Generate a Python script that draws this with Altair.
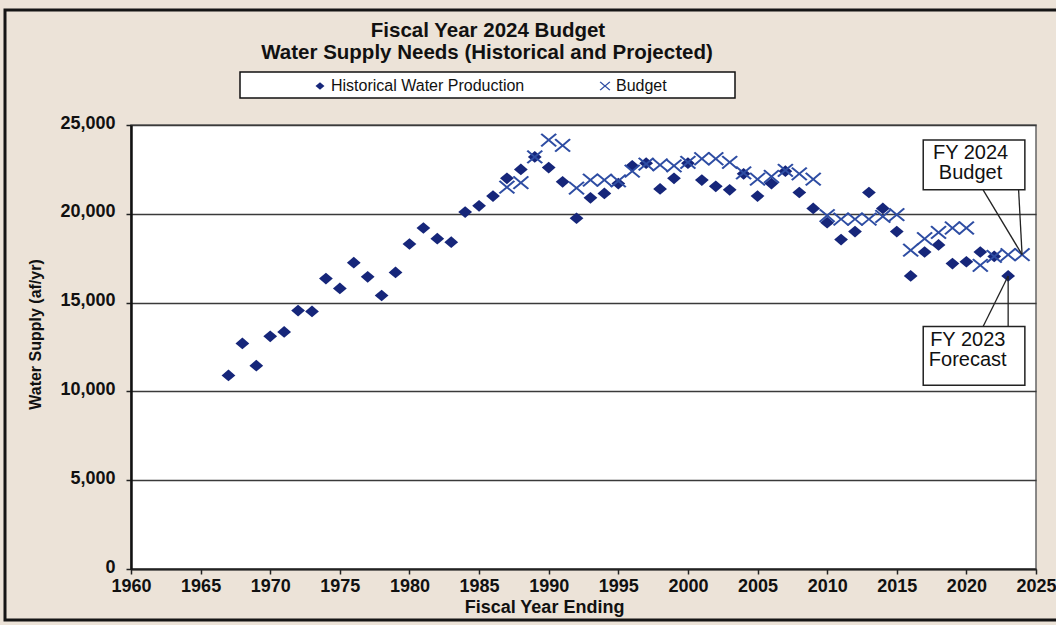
import altair as alt
import pandas as pd

# ---------------- data ----------------
hist_years = list(range(1967, 2024))
hist_values = [
    10900, 12700, 11450, 13100, 13350, 14550, 14500, 16350, 15800, 17250,   # 1967-1976
    16450, 15400, 16700, 18300, 19200, 18600, 18400, 20100, 20450, 21000,   # 1977-1986
    22000, 22500, 23200, 22600, 21800, 19750, 20900, 21150, 21700, 22700,   # 1987-1996
    22850, 21400, 22000, 22850, 21900, 21550, 21350, 22250, 21000, 21700,   # 1997-2006
    22400, 21200, 20300, 19500, 18550, 19000, 21200, 20300, 19000, 16500,   # 2007-2016
    17850, 18250, 17200, 17300, 17850, 17600, 16500,                        # 2017-2023
]
budget_years = list(range(1987, 2025))
budget_values = [
    21500, 21750, 23200, 24150, 23850, 21450, 21900, 21900, 21850, 22400,   # 1987-1996
    22800, 22750, 22700, 22900, 23100, 23100, 22900, 22300, 21950, 22100,   # 1997-2006
    22450, 22250, 21950, 19900, 19700, 19700, 19700, 19850, 19950, 17950,   # 2007-2016
    18600, 18950, 19200, 19200, 17100, 17600, 17700, 17700,                 # 2017-2024
]
series_names = ["Historical Water Production", "Budget"]
x_ticks = list(range(1960, 2026, 5))
y_ticks = list(range(0, 25001, 5000))
title_lines = ["Fiscal Year 2024 Budget", "Water Supply Needs (Historical and Projected)"]

# annotation callouts (data units)
ann_box_x = [2016.9, 2024.2]
ann_budget_box_y = [21350, 24150]
ann_forecast_box_y = [10350, 13650]
ann_budget_lines_x = [2021.2, 2023.75]
ann_forecast_lines_x = [2021.2, 2023.0]
ann_texts = ["FY 2024", "Budget", "FY 2023", "Forecast"]
ann_text_x = [2020.3, 2020.3, 2020.1, 2020.1]
ann_text_y = [23450, 22320, 12910, 11780]

# ---------------- tables ----------------
points = pd.DataFrame({
    "x": hist_years + budget_years,
    "y": hist_values + budget_values,
    "series": [series_names[0]] * len(hist_years) + [series_names[1]] * len(budget_years),
})

boxes = pd.DataFrame({
    "x": [ann_box_x[0]] * 2, "x2": [ann_box_x[1]] * 2,
    "y": [ann_budget_box_y[0], ann_forecast_box_y[0]],
    "y2": [ann_budget_box_y[1], ann_forecast_box_y[1]],
})

b_tip = (budget_years[-1], budget_values[-1])
f_tip = (hist_years[-1], hist_values[-1])
lines = pd.DataFrame({
    "x": [b_tip[0], b_tip[0], f_tip[0], f_tip[0]],
    "y": [b_tip[1], b_tip[1], f_tip[1], f_tip[1]],
    "x2": ann_budget_lines_x + ann_forecast_lines_x,
    "y2": [ann_budget_box_y[0]] * 2 + [ann_forecast_box_y[1]] * 2,
})

texts = pd.DataFrame({"x": ann_text_x, "y": ann_text_y, "t": ann_texts})

FONT = "Liberation Sans"
XT = "Fiscal Year Ending"
YT = "Water Supply (af/yr)"

xscale = alt.Scale(domain=[1960, 2025], nice=False, zero=False)
yscale = alt.Scale(domain=[0, 25000], nice=False)

x_axis = alt.Axis(
    values=x_ticks, format="d", title=XT, grid=False, labelFlush=False,
    labelFont=FONT, labelFontSize=18, labelFontWeight="bold", labelColor="#111",
    labelPadding=3, tickSize=5, tickColor="#222", tickWidth=1.5,
    domainColor="#222", domainWidth=2,
    titleFont=FONT, titleFontSize=18, titleFontWeight="bold", titleColor="#111",
    titleX=413, titlePadding=3,
)
y_axis = alt.Axis(
    values=y_ticks, format=",d", title=YT, grid=True, labelFlush=False,
    gridColor="#3a3a3a", gridWidth=1.4,
    labelFont=FONT, labelFontSize=18, labelFontWeight="bold", labelColor="#111",
    labelPadding=11, labelOffset=-2, tickSize=5, tickColor="#222", tickWidth=1.5,
    domainColor="#111", domainWidth=2.5,
    titleFont=FONT, titleFontSize=16, titleFontWeight="bold", titleColor="#111",
    titleX=-96, titleY=209, titleAngle=270, titleAlign="center", titleBaseline="middle",
)

DIAMOND = "M-1,0L0,-0.85L1,0L0,0.85Z"
XMARK = ("M0,-0.18L0.97,-1L1.2,-0.82L0.22,0L1.2,0.82L0.97,1L0,0.18L-0.97,1"
         "L-1.2,0.82L-0.22,0L-1.2,-0.82L-0.97,-1Z")

one = pd.DataFrame({"a": [0]})

# light strip outside the frame, then the black frame (pixel offsets from plot origin)
outer = alt.Chart(one).mark_rect(fill=None, stroke="#EEF0EE", strokeWidth=16).encode(
    x=alt.value(-141), x2=alt.value(960), y=alt.value(-133), y2=alt.value(520)
)
frame = alt.Chart(one).mark_rect(fill=None, stroke="#151515", strokeWidth=3).encode(
    x=alt.value(-126), x2=alt.value(960), y=alt.value(-115), y2=alt.value(495)
)
legend_box = alt.Chart(one).mark_rect(fill="white", stroke="#111", strokeWidth=1.5).encode(
    x=alt.value(109), x2=alt.value(604), y=alt.value(-53), y2=alt.value(-27)
)
title_df = pd.DataFrame({"t": title_lines, "px": [357, 356], "py": [-94, -72]})
title_marks = alt.Chart(title_df).mark_text(
    font=FONT, fontSize=20.5, fontWeight="bold", color="#111", align="center", baseline="middle"
).encode(
    x=alt.X("px:Q", scale=None), y=alt.Y("py:Q", scale=None), text="t:N"
)

leg = alt.Legend(
    orient="none", legendX=181, legendY=-47, direction="horizontal",
    title=None, padding=0, labelFont=FONT, labelFontSize=16, labelLimit=400,
    labelColor="#111", labelOffset=3, columnPadding=72, symbolSize=80,
)

pts = alt.Chart(points).mark_point(filled=True, size=190, opacity=1).encode(
    x=alt.X("x:Q", scale=xscale, axis=x_axis, title=XT),
    y=alt.Y("y:Q", scale=yscale, axis=y_axis, title=YT),
    color=alt.Color("series:N", scale=alt.Scale(domain=series_names, range=["#16267A", "#2E4DA3"]),
                    legend=leg),
    shape=alt.Shape("series:N", scale=alt.Scale(domain=series_names, range=[DIAMOND, XMARK]),
                    legend=leg),
    order=alt.Order("ord:Q"),
).transform_calculate(ord="datum.series == 'Budget' ? 1 : 0")

rules = alt.Chart(lines).mark_rule(color="#222", strokeWidth=1.3).encode(
    x=alt.X("x:Q", scale=xscale, title=XT), y=alt.Y("y:Q", scale=yscale, title=YT),
    x2="x2:Q", y2="y2:Q",
)
rects = alt.Chart(boxes).mark_rect(fill="white", stroke="#222", strokeWidth=1.5).encode(
    x=alt.X("x:Q", scale=xscale, title=XT), y=alt.Y("y:Q", scale=yscale, title=YT),
    x2="x2:Q", y2="y2:Q",
)
labels = alt.Chart(texts).mark_text(font=FONT, fontSize=20, color="#111", align="center",
                                     baseline="middle").encode(
    x=alt.X("x:Q", scale=xscale, title=XT), y=alt.Y("y:Q", scale=yscale, title=YT),
    text="t:N",
)

chart = alt.layer(outer, frame, legend_box, title_marks, pts, rules, rects, labels).properties(
    width=905, height=444,
    autosize=alt.AutoSizeParams(type="none"),
    padding={"left": 131, "top": 125, "right": 20, "bottom": 56},
    background="#ECE3D8",
).configure_view(stroke="#666", strokeWidth=1.5, fill="white")

chart.save("out.html", embed_options={"renderer": "svg", "actions": False})
